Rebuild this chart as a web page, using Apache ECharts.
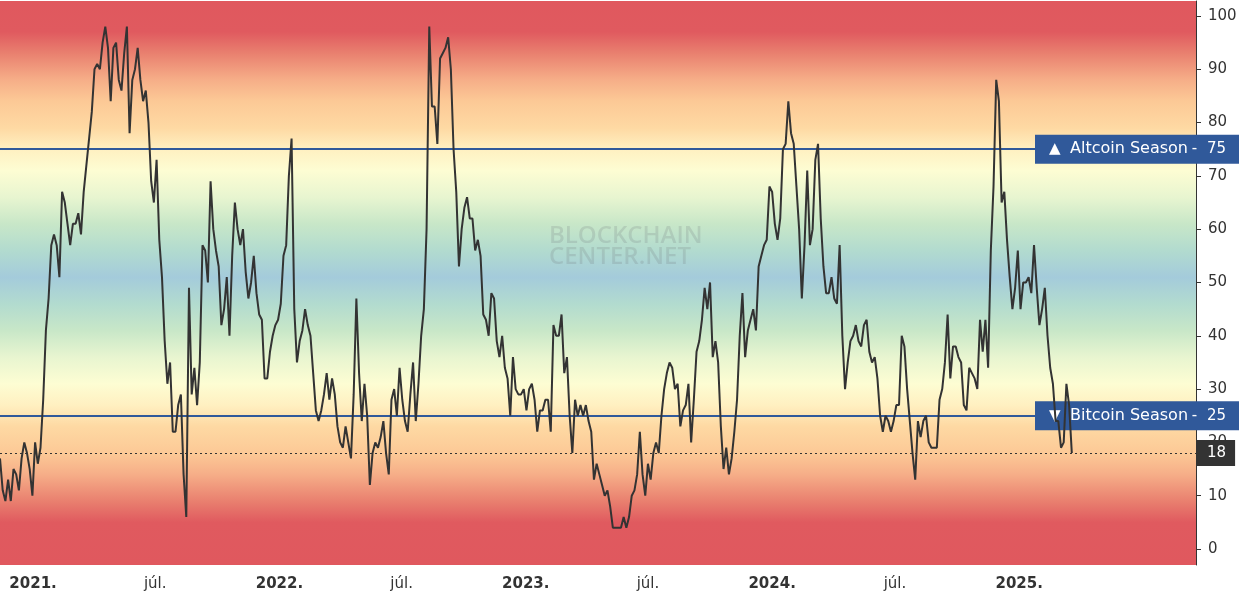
<!DOCTYPE html>
<html>
<head>
<meta charset="utf-8">
<title>Altcoin Season Index</title>
<script src="https://cdn.jsdelivr.net/npm/echarts@6/dist/echarts.min.js"></script>
<style>
  html, body { margin: 0; padding: 0; background: #ffffff; }
  #chart { width: 1249px; height: 612px; }
</style>
</head>
<body>
<div id="chart"></div>
<script>
// Altcoin season index, one reading every 4 days from 2020-11-13
const startDate = [2020, 10, 13]
const stepDays = 4
const indexValues = [
  17, 11, 9, 13, 9, 15, 14, 11, 17, 20,
  18, 15, 10, 20, 16, 19, 28, 41, 47, 57,
  59, 57, 51, 67, 65, 61, 57, 61, 61, 63,
  59, 67, 72, 77, 82, 90, 91, 90, 95, 98,
  94, 84, 94, 95, 88, 86, 93, 98, 78, 88,
  90, 94, 88, 84, 86, 80, 69, 65, 73, 58,
  51, 39, 31, 35, 22, 22, 27, 29, 14, 6,
  49, 29, 34, 27, 35, 57, 56, 50, 69, 60,
  56, 53, 42, 45, 51, 40, 55, 65, 60, 57,
  60, 52, 47, 50, 55, 48, 44, 43, 32, 32,
  37, 40, 42, 43, 46, 55, 57, 70, 77, 45,
  35, 39, 41, 45, 42, 40, 33, 26, 24, 26,
  29, 33, 28, 32, 29, 23, 20, 19, 23, 20,
  17, 29, 47, 33, 24, 31, 25, 12, 18, 20,
  19, 21, 24, 18, 14, 28, 30, 25, 34, 28,
  24, 22, 29, 35, 24, 31, 40, 45, 60, 98,
  83, 83, 76, 92, 93, 94, 96, 90, 75, 67,
  53, 60, 64, 66, 62, 62, 56, 58, 55, 44,
  43, 40, 48, 47, 39, 36, 40, 34, 32, 25,
  36, 30, 29, 29, 30, 26, 30, 31, 28, 22,
  26, 26, 28, 28, 22, 42, 40, 40, 44, 33,
  36, 25, 18, 28, 25, 27, 25, 27, 24, 22,
  13, 16, 14, 12, 10, 11, 8, 4, 4, 4,
  4, 6, 4, 6, 10, 11, 14, 22, 14, 10,
  16, 13, 18, 20, 18, 25, 30, 33, 35, 34,
  30, 31, 23, 26, 27, 31, 20, 28, 37, 39,
  43, 49, 45, 50, 36, 39, 35, 23, 15, 19,
  14, 17, 22, 28, 40, 48, 36, 41, 43, 45,
  41, 53, 55, 57, 58, 68, 67, 61, 58, 62,
  75, 76, 84, 78, 76, 68, 60, 47, 57, 71,
  57, 60, 73, 76, 62, 53, 48, 48, 51, 47,
  46, 57, 40, 30, 35, 39, 40, 42, 39, 38,
  42, 43, 37, 35, 36, 32, 25, 22, 25, 24,
  22, 24, 27, 27, 40, 38, 30, 24, 18, 13,
  24, 21, 24, 25, 20, 19, 19, 19, 28, 30,
  35, 44, 32, 38, 38, 36, 35, 27, 26, 34,
  33, 32, 30, 43, 37, 43, 34, 56, 68, 88,
  84, 65, 67, 58, 51, 45, 49, 56, 45, 50,
  50, 51, 48, 57, 49, 42, 45, 49, 40, 34,
  31, 24, 24, 19, 20, 31, 27, 18
]
const xLabelDates = [
  [2021, 0], [2021, 6], [2022, 0], [2022, 6], [2023, 0],
  [2023, 6], [2024, 0], [2024, 6], [2025, 0]
]
const yTicks = [0, 10, 20, 30, 40, 50, 60, 70, 80, 90, 100]
const seasons = [
  { mark: '▲', name: 'Altcoin Season', value: 75 },
  { mark: '▼', name: 'Bitcoin Season', value: 25 }
]

const DAY = 86400000
const FONT = 'DejaVu Sans'
const TEXT = '#333333'
const BLUE = '#30599a'
const Y_MIN = -3
const Y_MAX = 102.8

const start = new Date(startDate[0], startDate[1], startDate[2]).getTime()
const seriesData = indexValues.map((v, i) => [start + i * stepDays * DAY, v])
const lastValue = indexValues[indexValues.length - 1]

// background colour bands, keyed by index value
const bands = [
  [102.8, '#e0585e'], [97, '#e05a5f'], [93, '#e9806f'], [88, '#f6ae88'],
  [84, '#fcc996'], [79, '#fed9a3'], [75, '#fff0c1'], [71, '#fdfdd3'],
  [66, '#e8f5d0'], [61, '#c8e7c8'], [56, '#b2dbcf'], [51, '#a4cbdb'],
  [46, '#b2dbcf'], [41, '#c8e7c8'], [36, '#e8f5d0'], [31, '#fdfdd3'],
  [27, '#fff0c1'], [23, '#fed9a3'], [18, '#fcc996'], [14, '#f6ae88'],
  [9, '#e9806f'], [5, '#e05a5f'], [-3, '#e0585e']
]
const clamp01 = (t) => Math.min(1, Math.max(0, t))
const bgGradient = new echarts.graphic.LinearGradient(0, 0, 0, 1,
  bands.map(([v, c]) => ({ offset: clamp01((Y_MAX - v) / (Y_MAX - Y_MIN)), color: c })))

const chart = echarts.init(document.getElementById('chart'))

const seasonLine = (s) => ({
  yAxis: s.value,
  lineStyle: { color: BLUE, width: 2, type: 'solid' },
  label: {
    show: true,
    position: 'end',
    distance: 0,
    offset: [-161, 0],
    formatter: `{t|${s.mark}}{n|${s.name}}{d|-}{v|${s.value}}`,
    backgroundColor: BLUE,
    padding: [6, 13, 6, 14],
    rich: {
      t: { width: 21, fontSize: 15, lineHeight: 17, color: '#fff', fontFamily: FONT },
      n: { width: 120, fontSize: 16, lineHeight: 17, color: '#fff', fontFamily: FONT },
      d: { width: 9, align: 'center', fontSize: 15, lineHeight: 17, color: '#fff', fontFamily: FONT },
      v: { width: 27, align: 'right', fontSize: 15, lineHeight: 17, color: '#fff', fontFamily: FONT }
    }
  }
})

const option = {
  animation: false,
  grid: {
    left: 0,
    right: 53,
    top: 1,
    bottom: 47,
    show: true,
    borderWidth: 0,
    backgroundColor: bgGradient
  },
  xAxis: {
    type: 'value',
    min: start,
    max: new Date(2025, 8, 20).getTime(),
    axisLine: { show: false },
    axisTick: { show: false },
    splitLine: { show: false },
    axisLabel: {
      customValues: xLabelDates.map(([y, m]) => new Date(y, m, 1).getTime()),
      margin: 12,
      formatter: (val) => {
        const d = new Date(val)
        return d.getMonth() === 0 ? `{y|${d.getFullYear()}.}` : '{m|júl.}'
      },
      rich: {
        y: { fontFamily: FONT, fontSize: 15, fontWeight: 'bold', color: TEXT },
        m: { fontFamily: FONT, fontSize: 15, color: TEXT }
      }
    }
  },
  yAxis: {
    type: 'value',
    position: 'right',
    min: Y_MIN,
    max: Y_MAX,
    splitLine: { show: false },
    axisLine: { show: true, lineStyle: { color: TEXT, width: 1 } },
    axisTick: { show: true, length: 5, customValues: yTicks, lineStyle: { color: TEXT } },
    axisLabel: {
      customValues: yTicks,
      margin: 12,
      color: TEXT,
      fontFamily: FONT,
      fontSize: 15
    }
  },
  graphic: [
    {
      type: 'text',
      left: 549,
      top: 224,
      z: 1,
      style: {
        text: 'BLOCKCHAIN\nCENTER.NET',
        fill: 'rgba(110, 115, 118, 0.2)',
        font: '600 24px "Open Sans"',
        lineHeight: 21
      }
    }
  ],
  series: [
    {
      type: 'line',
      data: seriesData,
      showSymbol: false,
      symbol: 'none',
      z: 3,
      lineStyle: { color: TEXT, width: 2 },
      markLine: {
        silent: true,
        symbol: 'none',
        z: 2,
        animation: false,
        data: [
          ...seasons.map(seasonLine),
          {
            yAxis: lastValue,
            lineStyle: { color: TEXT, width: 1, type: [2, 3] },
            label: {
              show: true,
              position: 'end',
              distance: 0,
              formatter: String(lastValue),
              backgroundColor: TEXT,
              color: '#fff',
              fontFamily: FONT,
              fontSize: 15,
              lineHeight: 17,
              padding: [5, 9, 4, 11]
            }
          }
        ]
      }
    }
  ]
}

chart.setOption(option)
</script>
</body>
</html>
